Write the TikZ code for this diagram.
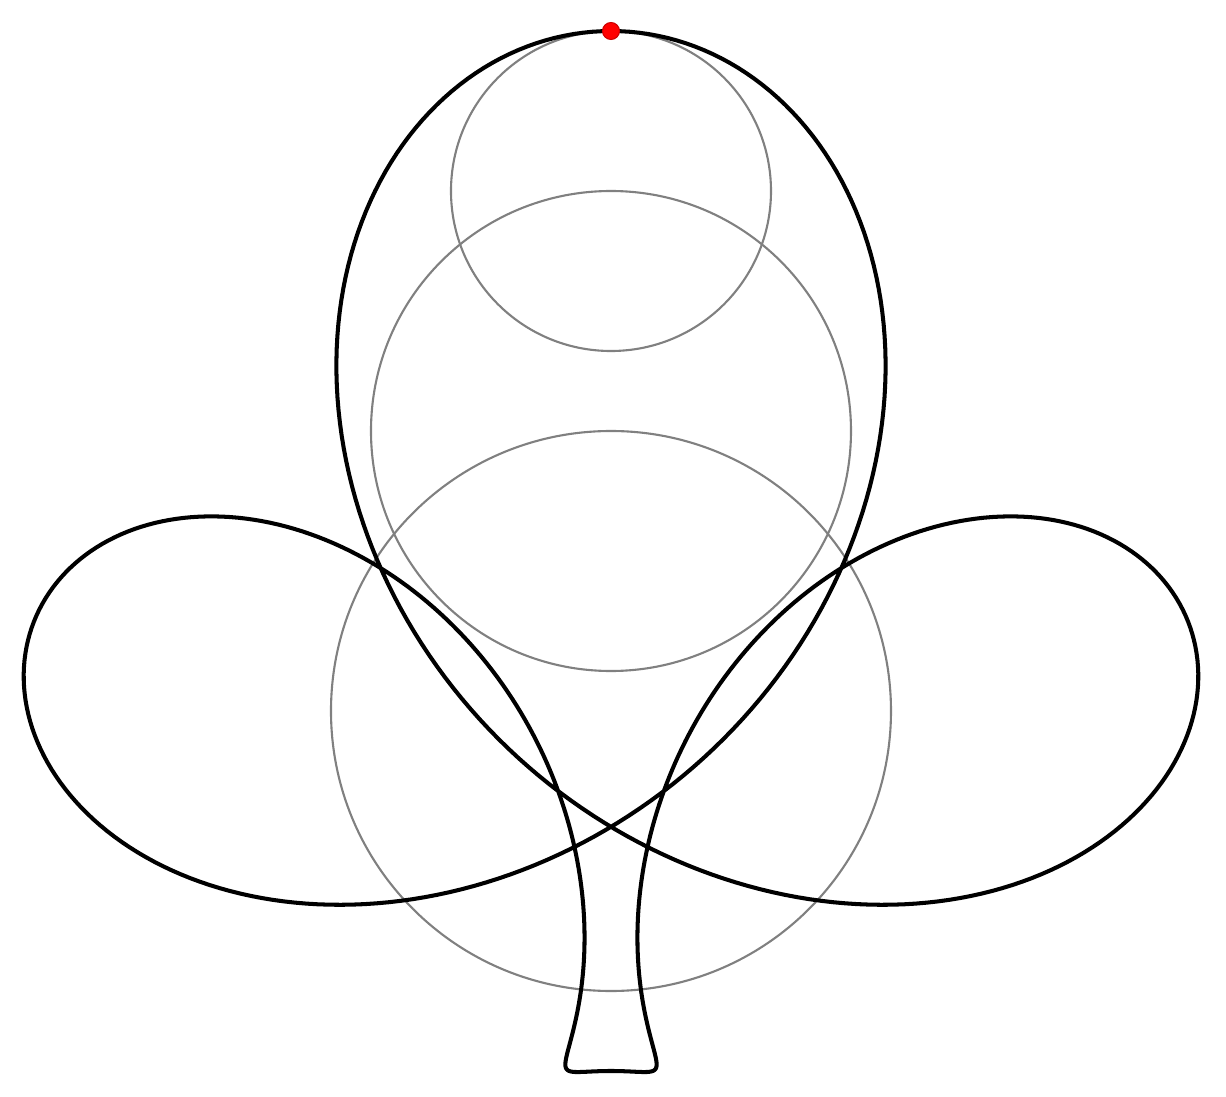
\documentclass[tikz,border=0pt]{standalone}
\usepackage{tikz}

\tikzset{
	epicircle/.style={gray, line width=0.6pt},
	clubcurve/.style={black, line width=1.15pt, line join=round},
	pendot/.style={fill=red, draw=red!80!black, line width=0.3pt}
}

\begin{document}
\begin{tikzpicture}
	\useasboundingbox (-6.11,-3.85) rectangle (6.15,7.11);
	
	% epicycles at t = 0
	\draw[epicircle] (0,0) circle (2.8);
	\draw[epicircle] (0,2.8) circle (2.4);
	\draw[epicircle] (0,5.2) circle (1.6);
	
	% traced curve
	\draw[clubcurve] plot[domain=0:360, samples=721, variable=\t]
		({2.8*sin(\t) - 2.4*sin(3*\t) - 1.6*sin(4*\t)},
		 {2.8*cos(\t) + 2.4*cos(3*\t) + 1.6*cos(4*\t)}) -- cycle;
	
	% pen
	\fill[pendot] (0,6.8) circle (0.085);
	
\end{tikzpicture}
\end{document}
